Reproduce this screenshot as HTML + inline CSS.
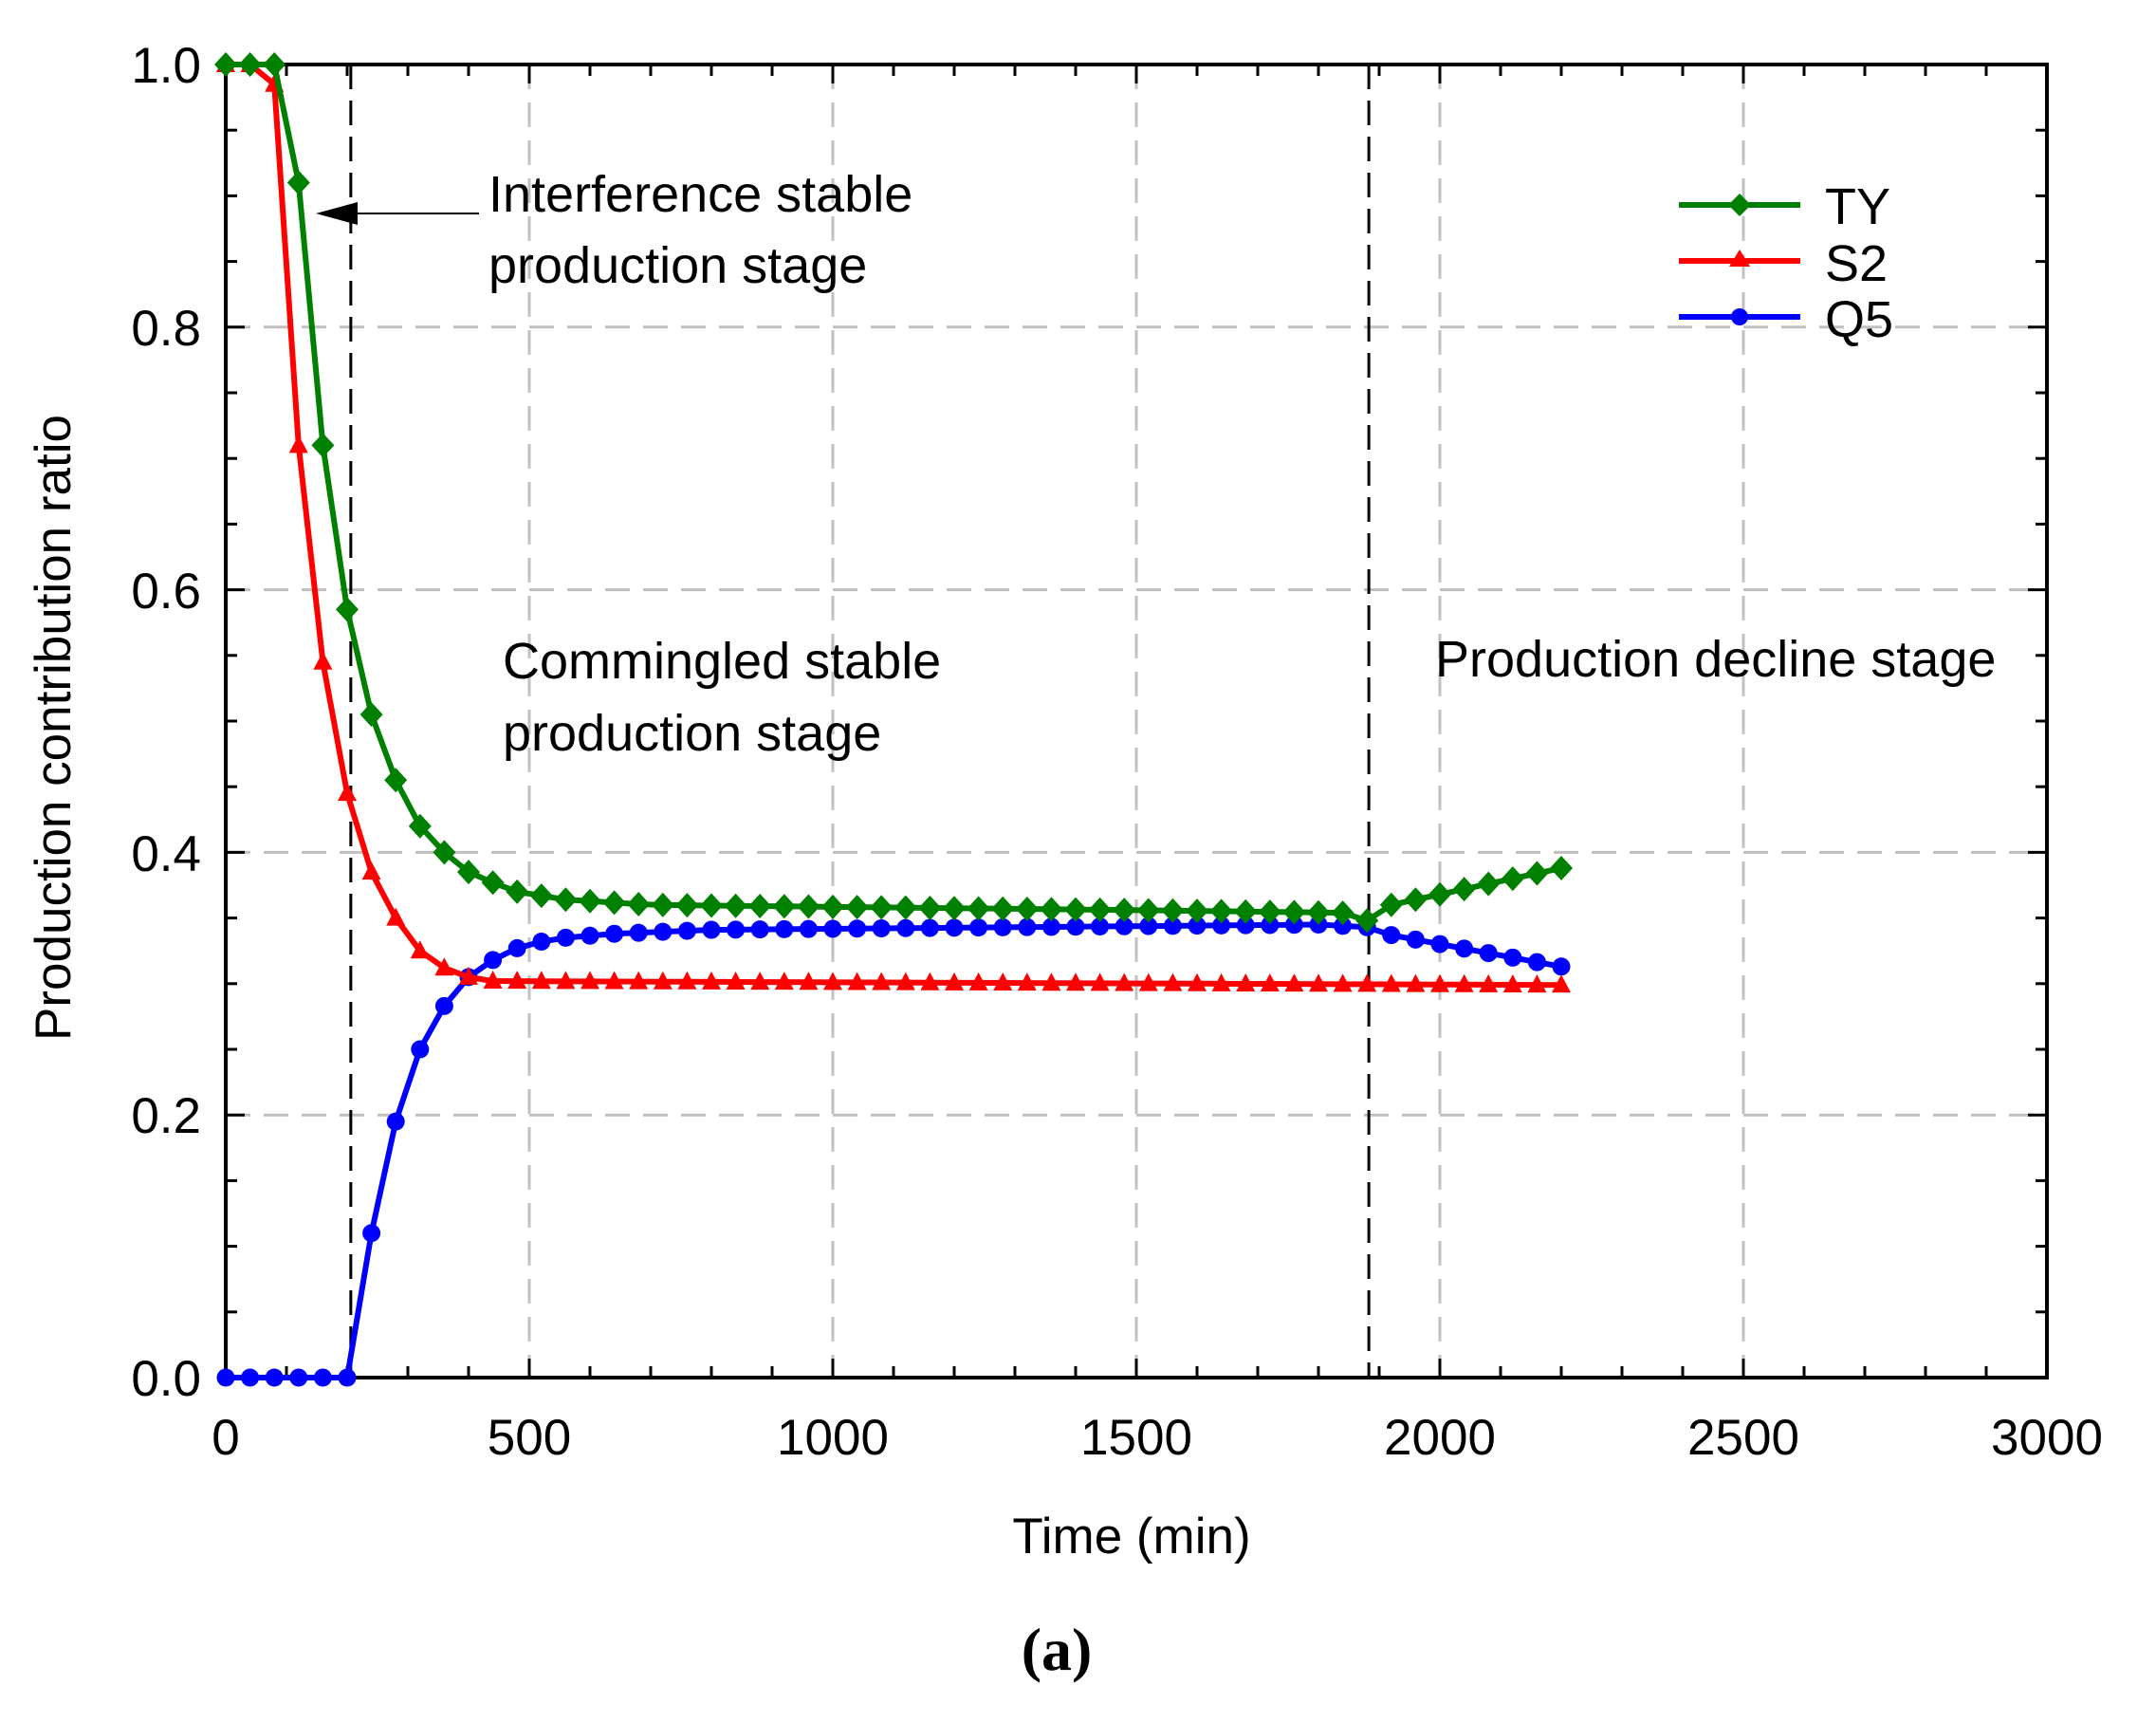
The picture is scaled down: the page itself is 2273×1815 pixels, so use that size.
<!DOCTYPE html>
<html><head><meta charset="utf-8"><style>
html,body{margin:0;padding:0;background:#fff;}
svg{display:block;font-family:"Liberation Sans",Arial,sans-serif;}
</style></head><body>
<svg id="s" width="2273" height="1815" viewBox="0 0 2273 1815" xmlns="http://www.w3.org/2000/svg">
<g id="grid" stroke="#c0c0c0" stroke-width="3" stroke-dasharray="26,14" fill="none"></g>
<g id="vd" stroke="#000" stroke-width="3" stroke-dasharray="26,12"></g>
<g id="ticks" stroke="#000" stroke-width="3"></g>
<rect x="238" y="68" width="1920" height="1384" fill="none" stroke="#000" stroke-width="4"/>
<g id="series"></g>
<g font-size="53" fill="#000" text-anchor="end">
<text x="212" y="87">1.0</text><text x="212" y="364">0.8</text><text x="212" y="641">0.6</text><text x="212" y="918">0.4</text><text x="212" y="1194">0.2</text><text x="212" y="1471">0.0</text>
</g>
<g font-size="53" fill="#000" text-anchor="middle">
<text x="238" y="1533">0</text><text x="558" y="1533">500</text><text x="878" y="1533">1000</text><text x="1198" y="1533">1500</text><text x="1518" y="1533">2000</text><text x="1838" y="1533">2500</text><text x="2158" y="1533">3000</text>
<text x="1193" y="1637">Time (min)</text>
<text transform="translate(74,767) rotate(-90)">Production contribution ratio</text>
</g>
<text x="1114" y="1760" font-family="Liberation Serif,serif" font-weight="bold" font-size="64" text-anchor="middle">(a)</text>
<g font-size="54" fill="#000">
<text x="515" y="223">Interference stable</text>
<text x="515" y="298">production stage</text>
<text x="530" y="715">Commingled stable</text>
<text x="530" y="791">production stage</text>
<text x="1513" y="713">Production decline stage</text>
<text x="1924" y="236">TY</text><text x="1924" y="296">S2</text><text x="1924" y="355">Q5</text>
</g>
<line x1="505" y1="225" x2="375" y2="225" stroke="#000" stroke-width="2"/>
<polygon points="333,225 377,213 377,237" fill="#000"/>
<g stroke-width="6">
<line x1="1770" y1="216" x2="1898" y2="216" stroke="#008000"/><polygon points="1834,204 1846,216 1834,228 1822,216" fill="#008000"/>
<line x1="1770" y1="275" x2="1898" y2="275" stroke="#ff0000"/><polygon points="1834,263 1845,281 1823,281" fill="#ff0000"/>
<line x1="1770" y1="334" x2="1898" y2="334" stroke="#0000ff"/><circle cx="1834" cy="334" r="9" fill="#0000ff"/>
</g>
</svg>
<script>
var NS="http://www.w3.org/2000/svg";
function X(t){return 238+t*0.64;} function Y(v){return 1452-v*1384;}
function el(p,n,a){var e=document.createElementNS(NS,n);for(var k in a)e.setAttribute(k,a[k]);document.getElementById(p).appendChild(e);return e;}
for(var t=500;t<=2500;t+=500)el("grid","line",{x1:X(t),y1:68,x2:X(t),y2:1452});
for(var v=0.2;v<0.9;v+=0.2)el("grid","line",{x1:238,y1:Y(v),x2:2158,y2:Y(v)});
el("vd","line",{x1:X(206),y1:68,x2:X(206),y2:1452});
el("vd","line",{x1:X(1883),y1:68,x2:X(1883),y2:1452});
for(var t=0;t<=3000;t+=100){var L=(t%500==0)?20:12;
el("ticks","line",{x1:X(t),y1:1452,x2:X(t),y2:1452-L});el("ticks","line",{x1:X(t),y1:68,x2:X(t),y2:68+L});}
for(var i=0;i<=20;i++){var v=i*0.05,L=(i%4==0)?20:12;
el("ticks","line",{x1:238,y1:Y(v),x2:238+L,y2:Y(v)});el("ticks","line",{x1:2158,y1:Y(v),x2:2158-L,y2:Y(v)});}
function interp(k,t){for(var i=0;i<k.length-1;i++){if(t<=k[i+1][0]){var a=k[i],b=k[i+1];return a[1]+(b[1]-a[1])*(t-a[0])/(b[0]-a[0]);}}return k[k.length-1][1];}
var TY=[[0,1],[80,1],[120,0.91],[160,0.71],[200,0.585],[240,0.505],[280,0.455],[320,0.42],[360,0.40],[400,0.385],[440,0.377],[480,0.37],[560,0.364],[700,0.36],[1500,0.356],[1840,0.354],[1880,0.348],[1920,0.36],[2200,0.388]];
var S2=[[0,1],[40,1],[80,0.985],[120,0.71],[160,0.545],[200,0.445],[240,0.385],[280,0.35],[320,0.325],[360,0.312],[400,0.305],[440,0.302],[2200,0.299]];
var Q5=[[0,0],[200,0],[240,0.11],[280,0.195],[320,0.25],[360,0.283],[400,0.305],[440,0.318],[480,0.327],[520,0.332],[560,0.335],[640,0.338],[800,0.341],[1800,0.345],[1880,0.343],[1920,0.337],[2200,0.313]];
function draw(k,c,m){var pts=[];for(var t=0;t<=2200;t+=40)pts.push([X(t),Y(interp(k,t))]);
el("series","polyline",{points:pts.map(function(p){return p.join(",")}).join(" "),fill:"none",stroke:c,"stroke-width":6});
pts.forEach(function(p){var x=p[0],y=p[1];
if(m=="d")el("series","polygon",{points:(x)+","+(y-13)+" "+(x+12)+","+y+" "+x+","+(y+13)+" "+(x-12)+","+y,fill:c});
else if(m=="t")el("series","polygon",{points:x+","+(y-11)+" "+(x+10)+","+(y+8)+" "+(x-10)+","+(y+8),fill:c});
else el("series","circle",{cx:x,cy:y,r:9.5,fill:c});});}
draw(Q5,"#0000ff","c");draw(S2,"#ff0000","t");draw(TY,"#008000","d");
</script>
</body></html>
